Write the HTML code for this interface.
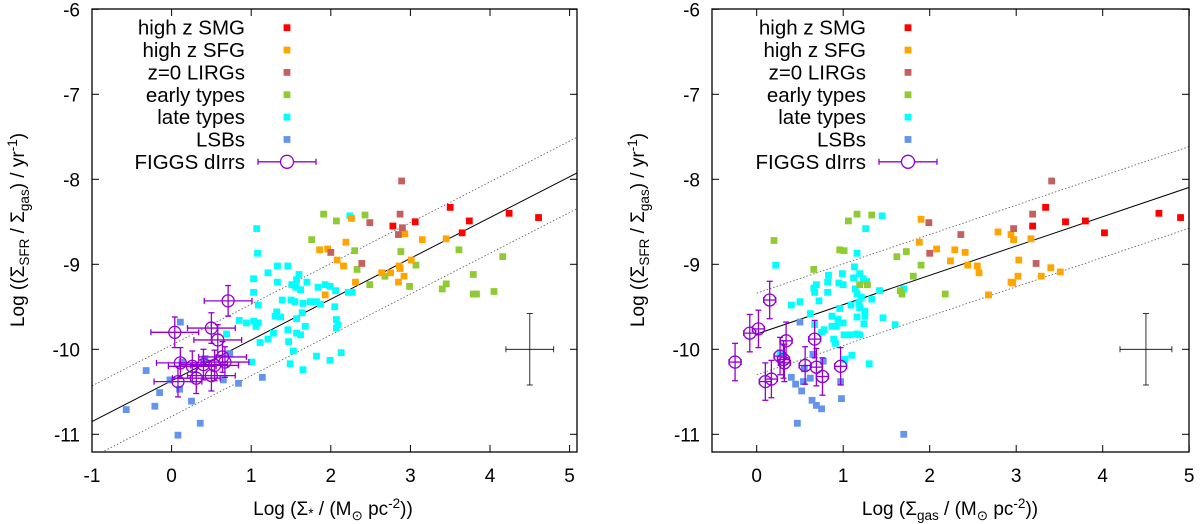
<!DOCTYPE html>
<html><head><meta charset="utf-8"><style>
body{margin:0;background:#fff}
svg{display:block;font-family:"Liberation Sans",sans-serif}
</style></head><body>
<svg id="chart" width="1200" height="524" viewBox="0 0 1200 524" xmlns="http://www.w3.org/2000/svg"></svg>
<script>
// ---------- LEFT PANEL DATA ----------
const L_SMG=[[3.50,-8.33],[4.24,-8.40],[4.61,-8.45],[3.74,-8.49],[3.65,-8.63],[3.06,-8.50],[2.78,-8.55]];
const L_SFG=[[2.26,-8.46],[2.93,-8.64],[3.15,-8.71],[3.45,-8.70],[2.19,-8.74],[1.86,-8.83],[1.96,-8.82],[2.08,-8.95],[2.16,-9.02],[3.01,-8.95],[2.86,-9.02],[2.87,-9.05],[2.64,-9.10],[2.75,-9.10],[2.92,-9.14],[2.85,-9.21],[2.31,-9.21],[1.93,-9.36]];
const L_LIRG=[[2.89,-8.02],[2.87,-8.41],[2.49,-8.51],[2.90,-8.57],[2.85,-8.65],[2.00,-8.86],[2.39,-8.99]];
const L_EARLY=[[1.91,-8.41],[2.43,-8.42],[2.07,-8.49],[1.76,-8.71],[2.30,-8.84],[2.88,-8.85],[3.61,-8.83],[4.16,-8.91],[3.07,-9.01],[2.33,-9.06],[2.68,-9.14],[2.49,-9.24],[2.99,-9.26],[3.79,-9.12],[3.45,-9.23],[3.40,-9.29],[3.79,-9.35],[3.83,-9.35],[4.05,-9.32]];
const L_LATE=[[1.07,-8.58],[2.24,-8.43],[1.08,-8.87],[1.03,-9.17],[1.03,-9.33],[1.33,-9.02],[1.46,-9.02],[1.21,-9.10],[1.33,-9.21],[1.60,-9.12],[1.57,-9.18],[1.70,-9.21],[1.51,-9.24],[1.56,-9.27],[1.62,-9.30],[1.84,-9.27],[1.93,-9.24],[1.99,-9.26],[2.06,-9.31],[2.22,-9.33],[2.27,-9.33],[1.09,-9.48],[1.39,-9.42],[1.50,-9.42],[1.55,-9.44],[1.65,-9.46],[1.74,-9.44],[1.82,-9.44],[1.87,-9.47],[1.64,-9.57],[1.32,-9.56],[1.37,-9.62],[1.30,-9.61],[1.57,-9.64],[2.05,-9.50],[2.07,-9.65],[2.09,-9.71],[2.07,-9.75],[1.68,-9.73],[0.85,-9.66],[0.94,-9.69],[1.03,-9.67],[1.09,-9.69],[1.06,-9.73],[1.46,-9.77],[1.28,-9.81],[1.21,-9.88],[1.11,-9.92],[1.47,-9.91],[1.57,-9.81],[1.62,-9.83],[1.53,-10.02],[1.82,-10.08],[1.99,-10.13],[2.13,-10.04],[1.49,-10.17],[1.65,-10.24],[1.01,-10.15],[0.69,-9.82]];
const L_LSB=[[0.11,-9.68],[-0.32,-10.25],[-0.15,-10.51],[-0.21,-10.67],[-0.57,-10.71],[0.08,-11.01],[0.36,-10.87],[0.25,-10.61],[0.10,-10.47],[0.84,-10.40],[1.14,-10.33],[0.73,-10.05],[0.42,-10.11],[-0.02,-10.36],[0.65,-10.36],[0.13,-10.15]];
const L_FIGGS=[[0.71,-9.43],[0.04,-9.80],[0.50,-9.75],[0.58,-9.89],[0.64,-10.09],[0.67,-10.15],[0.11,-10.16],[0.26,-10.20],[0.40,-10.18],[0.54,-10.19],[0.31,-10.34],[0.50,-10.31],[0.08,-10.38]];
const L_FIGGS_XERR=0.3, L_FIGGS_YERR=0.18;
const L_FIT=[0.48,-10.37], L_FIT_OFF=0.42;
// ---------- RIGHT PANEL DATA ----------
const R_SMG=[[3.34,-8.33],[3.19,-8.55],[3.57,-8.50],[3.80,-8.49],[4.02,-8.63],[4.65,-8.40],[4.90,-8.45]];
const R_SFG=[[1.90,-8.47],[1.88,-8.74],[2.08,-8.82],[2.29,-8.83],[2.41,-8.86],[2.24,-8.96],[2.44,-9.01],[2.55,-9.02],[2.57,-9.10],[2.79,-8.62],[2.94,-8.65],[2.97,-8.71],[3.17,-8.70],[3.03,-8.95],[3.02,-9.14],[2.94,-9.21],[2.96,-9.22],[3.29,-9.14],[3.40,-9.04],[3.51,-9.09],[2.68,-9.36]];
const R_LIRG=[[3.41,-8.02],[3.19,-8.41],[1.99,-8.51],[2.36,-8.65],[2.97,-8.58],[2.00,-8.87],[3.23,-8.99]];
const R_EARLY=[[0.20,-8.72],[1.06,-8.49],[1.16,-8.41],[1.33,-8.42],[0.96,-8.83],[1.01,-8.84],[0.66,-9.06],[1.62,-8.91],[1.73,-8.85],[1.90,-9.01],[1.81,-9.14],[1.19,-9.24],[1.28,-9.24],[1.66,-9.31],[1.68,-9.35],[2.18,-9.35]];
const R_LATE=[[0.22,-9.01],[1.45,-8.43],[1.26,-8.58],[1.16,-8.87],[1.13,-9.03],[0.83,-9.13],[0.82,-9.21],[0.69,-9.24],[0.66,-9.28],[0.67,-9.33],[0.82,-9.33],[0.72,-9.43],[0.40,-9.48],[0.50,-9.44],[0.62,-9.58],[0.95,-9.22],[1.00,-9.24],[0.99,-9.11],[1.12,-9.16],[1.19,-9.11],[1.23,-9.17],[1.27,-9.20],[1.14,-9.29],[1.16,-9.35],[1.21,-9.39],[1.18,-9.45],[1.09,-9.48],[0.96,-9.52],[1.19,-9.51],[1.25,-9.55],[1.25,-9.61],[1.16,-9.62],[0.87,-9.61],[0.94,-9.65],[1.00,-9.69],[0.92,-9.73],[1.24,-9.70],[1.33,-9.41],[1.42,-9.31],[1.46,-9.63],[1.60,-9.71],[1.70,-9.29],[0.87,-9.73],[0.78,-9.77],[0.75,-9.80],[0.67,-9.71],[0.89,-9.88],[0.91,-9.93],[1.01,-9.83],[1.08,-9.83],[1.16,-9.82],[1.19,-9.83],[1.10,-10.07],[1.02,-10.12],[1.30,-10.17],[0.27,-10.04]];
const R_LSB=[[0.50,-9.68],[0.47,-10.87],[1.70,-11.0],[0.98,-10.58],[0.40,-10.33],[0.45,-10.41],[0.52,-10.49],[0.54,-10.38],[0.64,-10.60],[0.69,-10.66],[0.75,-10.70],[0.62,-10.34],[0.77,-10.14],[0.97,-10.38],[0.65,-10.06],[0.55,-10.23]];
const R_FIGGS=[[-0.25,-10.15],[0.15,-9.42],[-0.08,-9.81],[0.02,-9.76],[0.34,-9.90],[0.27,-10.08],[0.32,-10.16],[0.31,-10.12],[0.10,-10.38],[0.17,-10.35],[0.56,-10.19],[0.67,-9.88],[0.69,-10.21],[0.76,-10.32],[0.97,-10.20]];
const R_FIGGS_XERR=0.07, R_FIGGS_YERR=0.22;
const R_FIT=[0.345,-9.82], R_FIT_OFF=0.48;
const LEGEND_LABELS=["high z SMG","high z SFG","z=0 LIRGs","early types","late types","LSBs","FIGGS dIrrs"];
const COLORS=["#ff0000","#ffa500","#c46060","#8fcc33","#00ffff","#6495ed"];
const Y_TICKS=[-6,-7,-8,-9,-10,-11];
const L_X_TICKS=[-1,0,1,2,3,4,5];
const R_X_TICKS=[0,1,2,3,4,5];

const NS="http://www.w3.org/2000/svg";
const svg=document.getElementById('chart');
function mk(tag,attrs,parent,text){const e=document.createElementNS(NS,tag);for(const k in attrs)e.setAttribute(k,attrs[k]);if(text!==undefined)e.textContent=text;(parent||svg).appendChild(e);return e;}

function panel(cfg){
  const g=mk('g',{});
  
  
  const X=v=>cfg.x0+(v-cfg.xmin)*cfg.kx;
  const Y=v=>9.3+(-6-v)*85;
  const top=9,bot=452,left=cfg.left,right=cfg.right;
  const clip='clip-'+cfg.name;
  const cp=mk('clipPath',{id:clip},g);mk('rect',{x:left,y:top,width:right-left,height:bot-top},cp);
  Y_TICKS.forEach(t=>{
    const y=Y(t);
    const tk=mk('line',{x1:left,x2:left+7,y1:y,y2:y,stroke:'#000'},g);
    
    mk('line',{x1:right-7,x2:right,y1:y,y2:y,stroke:'#000'},g);
    const lb=mk('text',{x:left-12,y:y+7,'text-anchor':'end','font-size':19},g,String(t));
    
  });
  cfg.xticks.forEach(t=>{
    const x=X(t);
    mk('line',{x1:x,x2:x,y1:bot,y2:bot-7,stroke:'#000'},g);
    mk('line',{x1:x,x2:x,y1:top,y2:top+7,stroke:'#000'},g);
    const lb=mk('text',{x:x,y:482,'text-anchor':'middle','font-size':19},g,String(t));
    
  });
  const fg=mk('g',{'clip-path':'url(#'+clip+')'},g);
  const [m,b]=cfg.fit;const xa=cfg.xmin,xb=cfg.xmax;
  const f=mk('line',{x1:X(xa),y1:Y(m*xa+b),x2:X(xb),y2:Y(m*xb+b),stroke:'#000','stroke-width':1},fg);
  
  [cfg.off,-cfg.off].forEach(o=>{
    const d=mk('line',{x1:X(xa),y1:Y(m*xa+b+o),x2:X(xb),y2:Y(m*xb+b+o),stroke:'#555','stroke-width':0.8,'stroke-dasharray':'1.5,2'},fg);
    
  });
  const series=[cfg.late,cfg.lsb,cfg.early,cfg.sfg,cfg.lirg,cfg.smg];
  const cols=[COLORS[4],COLORS[5],COLORS[3],COLORS[1],COLORS[2],COLORS[0]];
  const names=['late-type-point','lsb-point','early-type-point','high-z-sfg-point','lirg-point','high-z-smg-point'];
  series.forEach((s,i)=>s.forEach(p=>{
    const r=mk('rect',{x:X(p[0])-3.4,y:Y(p[1])-3.4,width:6.8,height:6.8,fill:cols[i]},fg);
    
  }));
  const pc='#9400d3';
  cfg.figgs.forEach(p=>{
    const pg=mk('g',{stroke:pc,'stroke-width':1.3,fill:'none'},fg);
    
    const cx=X(p[0]),cy=Y(p[1]);
    const x1=X(p[0]-cfg.xerr),x2=X(p[0]+cfg.xerr),y1=Y(p[1]+cfg.yerr),y2=Y(p[1]-cfg.yerr);
    mk('line',{x1:x1,x2:x2,y1:cy,y2:cy},pg);mk('line',{x1:cx,x2:cx,y1:y1,y2:y2},pg);
    mk('line',{x1:x1,x2:x1,y1:cy-3,y2:cy+3},pg);mk('line',{x1:x2,x2:x2,y1:cy-3,y2:cy+3},pg);
    mk('line',{x1:cx-3,x2:cx+3,y1:y1,y2:y1},pg);mk('line',{x1:cx-3,x2:cx+3,y1:y2,y2:y2},pg);
    mk('circle',{cx:cx,cy:cy,r:6},pg);
  });
  const eg=mk('g',{stroke:'#000','stroke-width':0.8},g);
  
  const ex=X(4.5),ey=Y(-10);
  mk('line',{x1:X(4.2),x2:X(4.8),y1:ey,y2:ey},eg);mk('line',{x1:ex,x2:ex,y1:Y(-9.58),y2:Y(-10.42)},eg);
  mk('line',{x1:X(4.2),x2:X(4.2),y1:ey-3,y2:ey+3},eg);mk('line',{x1:X(4.8),x2:X(4.8),y1:ey-3,y2:ey+3},eg);
  mk('line',{x1:ex-3,x2:ex+3,y1:Y(-9.58),y2:Y(-9.58)},eg);mk('line',{x1:ex-3,x2:ex+3,y1:Y(-10.42),y2:Y(-10.42)},eg);
  const lg=mk('g',{},g);
  
  LEGEND_LABELS.forEach((t,i)=>{
    const y=27.7+i*22.35;
    const e=mk('g',{},lg);
    
    mk('text',{x:cfg.legX,y:y+7,'text-anchor':'end','font-size':20.5},e,t);
    const mx=cfg.legX+42;
    if(i<6){mk('rect',{x:mx-3.4,y:y-3.4,width:6.8,height:6.8,fill:COLORS[i]},e);}
    else{const q=mk('g',{stroke:pc,'stroke-width':1.3,fill:'none'},e);
      mk('line',{x1:mx-29,x2:mx+29,y1:y,y2:y},q);mk('line',{x1:mx-29,x2:mx-29,y1:y-3,y2:y+3},q);mk('line',{x1:mx+29,x2:mx+29,y1:y-3,y2:y+3},q);
      mk('circle',{cx:mx,cy:y,r:6.5,fill:'#fff'},q);}
  });
  const fr=mk('rect',{x:left,y:top,width:right-left,height:bot-top,fill:'none',stroke:'#000','stroke-width':1.3},g);
  
  const yt=mk('text',{x:0,y:0,'font-size':19,'text-anchor':'middle',transform:'translate('+cfg.ytX+',230) rotate(-90)'},g);
  
  yt.innerHTML='Log ((Σ<tspan font-size="13.5" dy="5">SFR</tspan><tspan dy="-5"> / Σ</tspan><tspan font-size="13.5" dy="5">gas</tspan><tspan dy="-5">) / yr</tspan><tspan font-size="13.5" dy="-7">-1</tspan><tspan dy="7">)</tspan>';
  const xt=mk('text',{x:cfg.xtX,y:515,'font-size':19,'text-anchor':'middle'},g);
  
  xt.innerHTML=cfg.xtitle;
}
panel({name:'left-panel',x0:92,xmin:-1,xmax:5.1,kx:79.6,left:92,right:577,xticks:L_X_TICKS,
  smg:L_SMG,sfg:L_SFG,lirg:L_LIRG,early:L_EARLY,late:L_LATE,lsb:L_LSB,figgs:L_FIGGS,xerr:L_FIGGS_XERR,yerr:L_FIGGS_YERR,
  fit:L_FIT,off:L_FIT_OFF,legX:245,ytX:24,xtX:333,
  xtitle:'Log  (Σ<tspan font-size="13.5" dy="3">*</tspan><tspan dy="-3"> / (M</tspan><tspan font-size="13.5" dy="5">⊙</tspan><tspan dy="-5"> pc</tspan><tspan font-size="13.5" dy="-7">-2</tspan><tspan dy="7">))</tspan>'});
panel({name:'right-panel',x0:756.7,xmin:0,xmax:5.1,kx:86.5,left:712,right:1189,xticks:R_X_TICKS,
  smg:R_SMG,sfg:R_SFG,lirg:R_LIRG,early:R_EARLY,late:R_LATE,lsb:R_LSB,figgs:R_FIGGS,xerr:R_FIGGS_XERR,yerr:R_FIGGS_YERR,
  fit:R_FIT,off:R_FIT_OFF,legX:866,ytX:644,xtX:950,
  xtitle:'Log  (Σ<tspan font-size="13.5" dy="5">gas</tspan><tspan dy="-5"> / (M</tspan><tspan font-size="13.5" dy="5">⊙</tspan><tspan dy="-5"> pc</tspan><tspan font-size="13.5" dy="-7">-2</tspan><tspan dy="7">))</tspan>'});
</script>
</body></html>
